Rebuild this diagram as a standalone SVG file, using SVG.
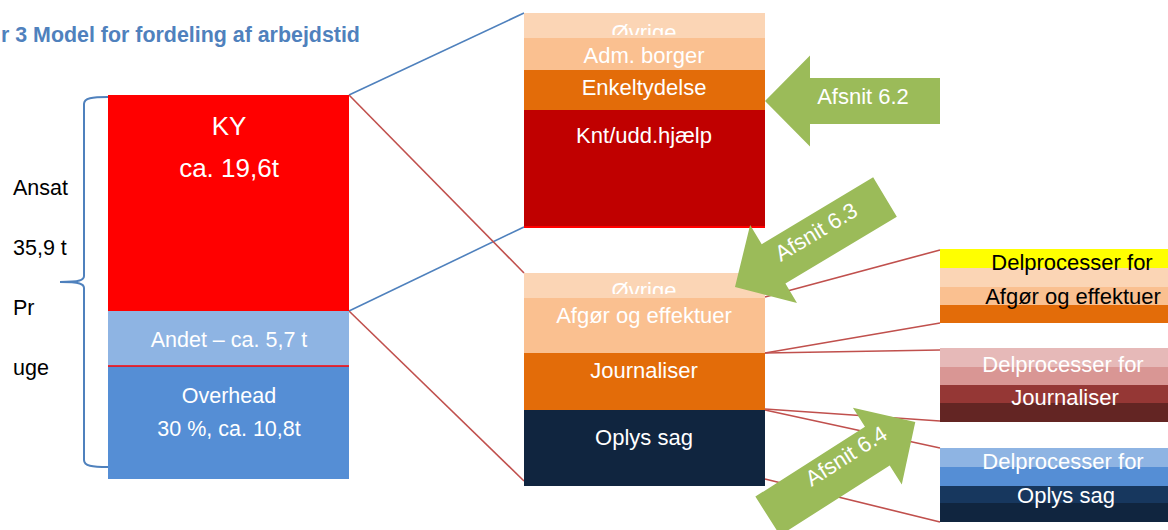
<svg xmlns="http://www.w3.org/2000/svg" width="1168" height="530" viewBox="0 0 1168 530">
<style>
text{font-family:"Liberation Sans",Arial,sans-serif;}
.w{fill:#ffffff;}
.k{fill:#000000;}
.m{text-anchor:middle;}
.s22{font-size:22px;}
.lineb{stroke:#4f81bd;stroke-width:1.6;fill:none;}
.liner{stroke:#c0504d;stroke-width:1.6;fill:none;}
.arrow{fill:#9bbb59;}
</style>
<defs>
<clipPath id="c1"><rect x="524" y="13" width="241" height="22"/></clipPath>
<clipPath id="c2"><rect x="524" y="273" width="241" height="21"/></clipPath>
</defs>
<rect x="0" y="0" width="1168" height="530" fill="#ffffff"/>
<text x="1" y="42" font-size="21.4" font-weight="bold" fill="#4f81bd">r 3 Model for fordeling af arbejdstid</text>

<g id="connectors">
<line class="lineb" x1="349" y1="95" x2="524" y2="13"/>
<line class="lineb" x1="349" y1="311" x2="524" y2="227"/>
<line class="liner" x1="349" y1="95" x2="524" y2="273"/>
<line class="liner" x1="349" y1="311" x2="524" y2="481"/>
<line class="liner" x1="765" y1="297" x2="940" y2="250"/>
<line class="liner" x1="765" y1="353" x2="940" y2="323"/>
<line class="liner" x1="765" y1="353" x2="940" y2="350"/>
<line class="liner" x1="765" y1="409" x2="940" y2="421"/>
<line class="liner" x1="765" y1="410" x2="940" y2="448"/>
<line class="liner" x1="765" y1="479" x2="940" y2="522"/>
</g>

<g id="brace">
<path d="M108,97 C92,97 84,98 84,104 L84,276 C84,280 80,282 60,282 C80,282 84,284 84,288 L84,460 C84,466 92,467 108,467" fill="none" stroke="#4f81bd" stroke-width="2"/>
<text class="k" x="13" y="195" font-size="21.5">Ansat</text>
<text class="k" x="13" y="255" font-size="21.5">35,9 t</text>
<text class="k" x="13" y="315" font-size="21.5">Pr</text>
<text class="k" x="13" y="375" font-size="21.5">uge</text>
</g>

<g id="ky">
<rect x="108" y="95" width="241" height="216" fill="#ff0000"/>
<text class="w m" x="229" y="135" font-size="26">KY</text>
<text class="w m" x="229" y="177" font-size="26">ca. 19,6t</text>
</g>
<g id="andet">
<rect x="108" y="311" width="241" height="55" fill="#8eb4e3"/>
<text class="w m" x="229" y="347" font-size="21.5">Andet – ca. 5,7 t</text>
</g>
<g id="overhead">
<rect x="108" y="366" width="241" height="113" fill="#558ed5"/>
<line x1="108" y1="366" x2="349" y2="366" stroke="#ff0000" stroke-width="1.5"/>
<text class="w m" x="229" y="403" font-size="21.5">Overhead</text>
<text class="w m" x="229" y="436" font-size="21.5">30 %, ca. 10,8t</text>
</g>

<g id="ky-detail">
<rect x="524" y="13" width="241" height="25" fill="#fbd5b5"/>
<text class="w m s22" x="644" y="40" clip-path="url(#c1)">Øvrige</text>
<rect x="524" y="38" width="241" height="32" fill="#fac090"/>
<text class="w m s22" x="644" y="63">Adm. borger</text>
<rect x="524" y="70" width="241" height="40" fill="#e36c09"/>
<text class="w m s22" x="644" y="95">Enkeltydelse</text>
<rect x="524" y="110" width="241" height="117" fill="#c00000"/>
<line x1="524" y1="227" x2="765" y2="227" stroke="#ff0000" stroke-width="2"/>
<text class="w m s22" x="644" y="143">Knt/udd.hjælp</text>
</g>

<g id="andet-detail">
<rect x="524" y="273" width="241" height="25" fill="#fbd5b5"/>
<text class="w m s22" x="644" y="298" clip-path="url(#c2)">Øvrige</text>
<rect x="524" y="298" width="241" height="55" fill="#fac090"/>
<text class="w m s22" x="644" y="323">Afgør og effektuer</text>
<rect x="524" y="353" width="241" height="57" fill="#e36c09"/>
<text class="w m s22" x="644" y="378">Journaliser</text>
<rect x="524" y="410" width="241" height="76" fill="#10253f"/>
<text class="w m s22" x="644" y="445">Oplys sag</text>
</g>

<g id="delproc-afgoer">
<rect x="940" y="249" width="228" height="19" fill="#ffff00"/>
<rect x="940" y="268" width="228" height="19" fill="#fbd5b5"/>
<rect x="940" y="287" width="228" height="18" fill="#fac090"/>
<rect x="940" y="305" width="228" height="18" fill="#e36c09"/>
<text class="k m s22" x="1072" y="270">Delprocesser for</text>
<text class="k m s22" x="1073" y="304">Afgør og effektuer</text>
</g>

<g id="delproc-journal">
<rect x="940" y="348" width="228" height="19" fill="#e6b9b8"/>
<rect x="940" y="367" width="228" height="18" fill="#d99694"/>
<rect x="940" y="385" width="228" height="18" fill="#953735"/>
<rect x="940" y="403" width="228" height="19" fill="#632523"/>
<text class="w m s22" x="1063" y="372">Delprocesser for</text>
<text class="w m s22" x="1065" y="405">Journaliser</text>
</g>

<g id="delproc-oplys">
<rect x="940" y="448" width="228" height="19" fill="#8eb4e3"/>
<rect x="940" y="467" width="228" height="19" fill="#558ed5"/>
<rect x="940" y="486" width="228" height="17" fill="#17375e"/>
<rect x="940" y="503" width="228" height="19" fill="#10253f"/>
<text class="w m s22" x="1063" y="469">Delprocesser for</text>
<text class="w m s22" x="1066" y="503">Oplys sag</text>
</g>

<g id="afsnit-6-2" transform="translate(852.5,101)">
<polygon class="arrow" points="-87.5,0 -42.5,-45.5 -42.5,-23 87.5,-23 87.5,23 -42.5,23 -42.5,45.5"/>
<text class="w m s22" x="10.5" y="3">Afsnit 6.2</text>
</g>
<g id="afsnit-6-3" transform="translate(810,242) rotate(-31)">
<polygon class="arrow" points="-87.5,0 -42.5,-45.5 -42.5,-23 87.5,-23 87.5,23 -42.5,23 -42.5,45.5"/>
<text class="w m s22" x="10.5" y="2">Afsnit 6.3</text>
</g>
<g id="afsnit-6-4" transform="translate(841.5,469) rotate(-32.5)">
<polygon class="arrow" points="87.5,0 42.5,-45.5 42.5,-23 -87.5,-23 -87.5,23 42.5,23 42.5,45.5"/>
<text class="w m s22" x="11" y="-1">Afsnit 6.4</text>
</g>
</svg>
